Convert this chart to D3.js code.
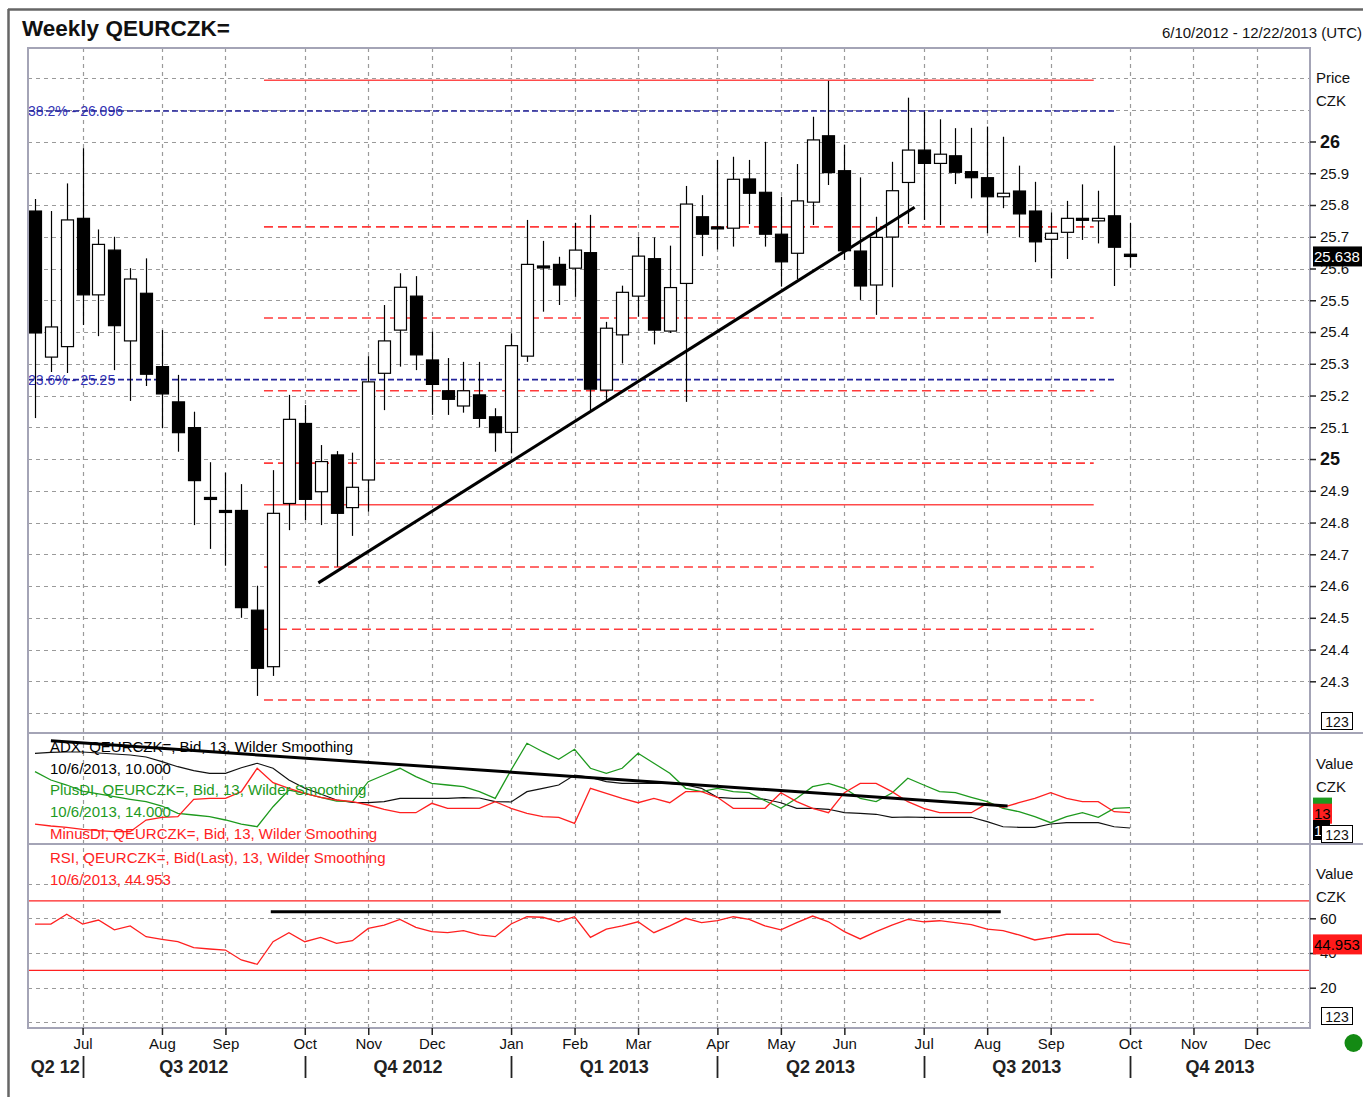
<!DOCTYPE html>
<html>
<head>
<meta charset="utf-8">
<script src="https://cdn.jsdelivr.net/npm/d3@7"></script>
<style>
body { margin: 0; background: #fff; }
svg { display: block; font-family: "Liberation Sans", Arial, sans-serif; }
</style>
</head>
<body>
<div id="chart"></div>
<script>
// weekly bars, first week 6/10/2012
const weekStart = new Date(2012, 5, 10);
const axisEnd = new Date(2013, 11, 23);

const open = [25.781, 25.321, 25.354, 25.758, 25.517, 25.658, 25.372, 25.522, 25.291, 25.180,
    25.099, 24.879, 24.838, 24.838, 24.524, 24.346, 24.860, 25.112, 24.897, 25.013,
    24.847, 24.934, 25.270, 25.406, 25.513, 25.312, 25.215, 25.167, 25.202, 25.133,
    25.084, 25.324, 25.608, 25.613, 25.601, 25.650, 25.217, 25.391, 25.513, 25.631,
    25.403, 25.553, 25.763, 25.731, 25.727, 25.882, 25.840, 25.708, 25.648, 25.809,
    26.018, 25.908, 25.655, 25.548, 25.699, 25.871, 25.973, 25.931, 25.955, 25.905,
    25.886, 25.826, 25.844, 25.781, 25.692, 25.714, 25.758, 25.750, 25.766, 25.645];
const high = [25.819, 25.781, 25.868, 25.979, 25.723, 25.700, 25.601, 25.632, 25.406, 25.265,
    25.149, 24.990, 24.957, 24.921, 24.601, 24.965, 25.202, 25.170, 25.044, 25.025,
    25.020, 25.324, 25.485, 25.585, 25.576, 25.401, 25.318, 25.306, 25.306, 25.160,
    25.396, 25.753, 25.687, 25.637, 25.744, 25.769, 25.432, 25.546, 25.700, 25.698,
    25.672, 25.860, 25.831, 25.942, 25.952, 25.942, 25.999, 25.826, 25.929, 26.078,
    26.191, 25.989, 25.887, 25.763, 25.936, 26.138, 26.094, 26.070, 26.042, 26.043,
    26.047, 26.015, 25.924, 25.873, 25.777, 25.813, 25.865, 25.845, 25.987, 25.744];
const low = [25.129, 25.274, 25.271, 25.422, 25.387, 25.280, 25.183, 25.230, 25.097, 25.023,
    24.792, 24.717, 24.664, 24.500, 24.254, 24.317, 24.776, 24.808, 24.792, 24.661,
    24.758, 24.834, 25.154, 25.291, 25.280, 25.139, 25.139, 25.146, 25.100, 25.023,
    25.018, 25.306, 25.464, 25.485, 25.511, 25.154, 25.186, 25.301, 25.448, 25.361,
    25.397, 25.180, 25.639, 25.660, 25.669, 25.740, 25.669, 25.543, 25.566, 25.737,
    25.863, 25.627, 25.501, 25.454, 25.541, 25.740, 25.753, 25.737, 25.866, 25.821,
    25.711, 25.790, 25.698, 25.620, 25.569, 25.630, 25.690, 25.679, 25.545, 25.603];
const close = [25.397, 25.416, 25.753, 25.517, 25.676, 25.420, 25.567, 25.267, 25.205, 25.083,
    24.932, 24.875, 24.834, 24.532, 24.341, 24.829, 25.125, 24.873, 24.992, 24.829,
    24.911, 25.243, 25.372, 25.541, 25.328, 25.235, 25.188, 25.215, 25.128, 25.083,
    25.357, 25.613, 25.604, 25.548, 25.658, 25.220, 25.412, 25.525, 25.639, 25.406,
    25.540, 25.803, 25.708, 25.727, 25.881, 25.837, 25.708, 25.621, 25.813, 26.005,
    25.902, 25.656, 25.545, 25.698, 25.845, 25.973, 25.931, 25.960, 25.903, 25.886,
    25.826, 25.837, 25.772, 25.684, 25.711, 25.758, 25.754, 25.758, 25.667, 25.638];

const adx = [24.65, 24.84, 24.90, 24.90, 24.71, 24.51, 24.31, 23.92, 23.00, 22.02,
    21.24, 20.73, 20.73, 21.82, 22.69, 21.71, 19.41, 17.78, 16.67, 15.49,
    15.04, 14.96, 15.16, 15.82, 15.82, 15.82, 15.82, 15.94, 15.88, 15.16,
    15.10, 17.12, 17.78, 18.43, 20.39, 19.94, 19.08, 18.76, 18.76, 18.76,
    18.76, 18.43, 17.78, 16.02, 15.82, 15.82, 15.63, 14.96, 13.86, 13.86,
    13.67, 13.00, 12.88, 12.69, 12.10, 12.16, 12.10, 12.10, 12.10, 12.10,
    11.24, 10.25, 10.14, 10.14, 10.78, 11.04, 11.04, 11.04, 10.25, 10.00];
const plusDI = [21.04, 19.41, 18.43, 17.25, 16.67, 16.14, 15.63, 15.16, 14.31, 12.88,
    12.55, 12.22, 11.57, 10.78, 10.25, 14.18, 17.45, 16.80, 16.02, 15.29,
    15.16, 19.08, 20.39, 21.71, 20.06, 18.76, 18.43, 18.10, 17.12, 15.82,
    21.37, 26.61, 24.96, 23.47, 25.43, 21.71, 20.73, 21.71, 24.65, 22.69,
    20.73, 17.78, 17.12, 17.78, 17.12, 16.92, 15.35, 13.86, 15.82, 18.10,
    18.76, 17.78, 15.82, 15.16, 16.86, 19.75, 18.43, 17.12, 16.92, 16.02,
    15.16, 13.86, 13.20, 12.22, 11.04, 12.22, 13.00, 12.10, 13.86, 14.00];
const minusDI = [10.78, 10.39, 10.14, 9.75, 9.47, 9.27, 9.27, 11.57, 12.10, 12.22,
    15.63, 15.82, 15.82, 17.12, 21.71, 18.88, 17.78, 16.80, 16.02, 15.49,
    15.16, 14.51, 13.67, 13.00, 13.00, 14.84, 13.86, 13.86, 13.86, 15.16,
    13.86, 12.88, 12.22, 12.10, 10.92, 17.78, 16.80, 15.82, 14.96, 15.82,
    14.96, 17.12, 17.12, 16.02, 13.86, 13.86, 13.86, 16.92, 15.16, 13.86,
    13.00, 16.92, 18.76, 18.76, 17.12, 15.16, 13.86, 13.00, 13.00, 13.00,
    14.84, 14.06, 14.96, 15.82, 16.92, 15.82, 15.16, 15.16, 13.20, 13.00];
const rsi = [56.7, 56.7, 62.3, 56.7, 59.0, 53.3, 55.6, 49.4, 47.9, 46.5,
    43.1, 42.3, 41.7, 36.0, 33.5, 46.5, 51.7, 46.5, 49.0, 45.6,
    47.1, 54.2, 56.1, 59.4, 54.8, 52.3, 51.7, 52.9, 50.4, 49.4,
    56.7, 60.9, 60.6, 58.0, 60.9, 49.0, 53.7, 55.6, 58.0, 51.7,
    55.6, 60.0, 57.5, 58.6, 60.9, 59.4, 55.6, 53.3, 57.5, 61.3,
    58.0, 52.3, 48.1, 52.3, 56.1, 59.4, 58.0, 58.6, 57.5, 56.3,
    53.7, 52.9, 50.4, 47.5, 49.0, 50.8, 50.8, 50.8, 46.5, 44.953];

const priceTicks = [24.3, 24.4, 24.5, 24.6, 24.7, 24.8, 24.9, 25, 25.1, 25.2, 25.3, 25.4, 25.5, 25.6, 25.7, 25.8, 25.9, 26];
const priceGrid = [24.2, 24.3, 24.4, 24.5, 24.6, 24.7, 24.8, 24.9, 25, 25.1, 25.2, 25.3, 25.4, 25.5, 25.6, 25.7, 25.8, 25.9, 26, 26.1, 26.2];
const rsiTicks = [60, 40, 20];
const rsiGrid = [0, 20, 40, 60, 80];
const rsiBands = [70, 30];

// drawn levels
const redSolidLevels = [26.193, 24.856];
const redDashedLevels = [25.731, 25.444, 25.215, 24.987, 24.660, 24.464, 24.241];
const levelSpan = [new Date(2012, 8, 19), new Date(2013, 8, 20)];
const fibLevels = [{ label: "38.2% - 26.096", value: 26.096 }, { label: "23.6% - 25.25", value: 25.25 }];
const fibEnd = new Date(2013, 8, 30);
const priceTrend = [{ date: new Date(2012, 9, 13), value: 24.61 }, { date: new Date(2013, 6, 3), value: 25.793 }];
const adxTrend = [{ date: new Date(2012, 5, 17), value: 27.1 }, { date: new Date(2013, 7, 13), value: 14.3 }];
const rsiTrend = [{ date: new Date(2012, 8, 22), value: 63.8 }, { date: new Date(2013, 7, 10), value: 63.8 }];

const lastClose = "25.638";
const adxLegend = [
    { text: "ADX, QEURCZK=, Bid, 13, Wilder Smoothing", color: "#000" },
    { text: "10/6/2013, 10.000", color: "#000" },
    { text: "PlusDI, QEURCZK=, Bid,  13, Wilder Smoothing", color: "#1e9a1e" },
    { text: "10/6/2013, 14.000", color: "#1e9a1e" },
    { text: "MinusDI, QEURCZK=, Bid,  13, Wilder Smoothing", color: "#f22" }
];
const rsiLegend = ["RSI, QEURCZK=, Bid(Last),  13, Wilder Smoothing", "10/6/2013, 44.953"];

const W = 1363, H = 1097;
const L = 28, R = 1310;
const mainTop = 48, mainBot = 733, adxBot = 844, rsiBot = 1028;
const FONT = 15;

const dates = d3.timeWeek.range(weekStart, d3.timeWeek.offset(weekStart, open.length));
const axisWeeks = d3.timeWeek.range(weekStart, axisEnd);

const svg = d3.select("#chart").append("svg")
    .attr("width", W)
    .attr("height", H);

const x = d3.scaleTime()
    .domain([dates[0], dates[dates.length - 1]])
    .range([35, 1130]);
const yP = d3.scaleLinear().domain([24.3, 26]).range([681.3, 141.5]);
const yA = d3.scaleLinear().domain([10, 14]).range([828, 807.6]);
const yR = d3.scaleLinear().domain([20, 60]).range([987.7, 918.3]);

svg.append("defs").append("clipPath").attr("id", "clip-plot")
    .append("rect").attr("x", L).attr("y", mainTop).attr("width", R - L).attr("height", rsiBot - mainTop);

// outer frame
svg.append("line").attr("x1", 8).attr("x2", W).attr("y1", 9.5).attr("y2", 9.5)
    .attr("stroke", "#666").attr("stroke-width", 2.5);
svg.append("line").attr("x1", 8.5).attr("x2", 8.5).attr("y1", 9).attr("y2", H)
    .attr("stroke", "#666").attr("stroke-width", 2.5);

svg.append("text").attr("x", 22).attr("y", 36)
    .style("font-size", "22.5px").style("font-weight", "bold").style("fill", "#111")
    .text("Weekly QEURCZK=");
svg.append("text").attr("x", 1362).attr("y", 38).attr("text-anchor", "end")
    .style("font-size", "15px").style("fill", "#111")
    .text("6/10/2012 - 12/22/2013 (UTC)");

// month weeks: first bar of each month
const monthWeeks = axisWeeks.filter((d, i) => i > 0 && d.getMonth() !== axisWeeks[i - 1].getMonth());
const quarterWeeks = monthWeeks.filter(d => d.getMonth() % 3 === 0);

const grid = svg.append("g").attr("stroke", "#9a9a9a").attr("stroke-width", 1.2).attr("stroke-dasharray", "4,4");
grid.selectAll(".vg").data(monthWeeks).join("line")
    .attr("x1", d => Math.round(x(d)) + 0.5).attr("x2", d => Math.round(x(d)) + 0.5)
    .attr("y1", mainTop).attr("y2", rsiBot);
grid.selectAll(".hg").data(priceGrid).join("line")
    .attr("x1", L).attr("x2", R)
    .attr("y1", d => Math.round(yP(d)) + 0.5).attr("y2", d => Math.round(yP(d)) + 0.5);
grid.selectAll(".rg").data(rsiGrid).join("line")
    .attr("x1", L).attr("x2", R)
    .attr("y1", d => Math.round(yR(d)) + 0.5).attr("y2", d => Math.round(yR(d)) + 0.5);

// level labels first so the lines run through them
svg.selectAll(".fib-label").data(fibLevels).join("text")
    .attr("x", L).attr("y", d => yP(d.value) + 5)
    .style("font-size", "14px").style("fill", "#3434b4")
    .text(d => d.label);

const plot = svg.append("g").attr("clip-path", "url(#clip-plot)");

plot.selectAll(".fib").data(fibLevels).join("line")
    .attr("x1", L).attr("x2", x(fibEnd))
    .attr("y1", d => yP(d.value)).attr("y2", d => yP(d.value))
    .attr("stroke", "#22229a").attr("stroke-width", 1.6).attr("stroke-dasharray", "6,3");

plot.selectAll(".red-solid").data(redSolidLevels).join("line")
    .attr("x1", x(levelSpan[0])).attr("x2", x(levelSpan[1]))
    .attr("y1", d => yP(d)).attr("y2", d => yP(d))
    .attr("stroke", "#ff4a4a").attr("stroke-width", 1.6);
plot.selectAll(".red-dash").data(redDashedLevels).join("line")
    .attr("x1", x(levelSpan[0])).attr("x2", x(levelSpan[1]))
    .attr("y1", d => yP(d)).attr("y2", d => yP(d))
    .attr("stroke", "#ff3a3a").attr("stroke-width", 1.6).attr("stroke-dasharray", "9,5");

// candles
const candles = plot.append("g");
candles.selectAll(".wick").data(dates).join("line")
    .attr("x1", d => Math.round(x(d)) + 0.5).attr("x2", d => Math.round(x(d)) + 0.5)
    .attr("y1", (d, i) => yP(high[i])).attr("y2", (d, i) => yP(low[i]))
    .attr("stroke", "#000").attr("stroke-width", 1.2);
candles.selectAll(".body").data(dates).join("rect")
    .attr("x", d => Math.round(x(d)) - 5.5)
    .attr("y", (d, i) => yP(Math.max(open[i], close[i])))
    .attr("width", 12)
    .attr("height", (d, i) => Math.max(2, Math.abs(yP(open[i]) - yP(close[i]))))
    .attr("fill", (d, i) => close[i] >= open[i] ? "#fff" : "#000")
    .attr("stroke", "#000").attr("stroke-width", 1.2);

const trend = d3.line().x(d => x(d.date));
plot.append("path").datum(priceTrend)
    .attr("d", trend.y(d => yP(d.value)))
    .attr("fill", "none").attr("stroke", "#000").attr("stroke-width", 3);

// ADX panel
svg.selectAll(".adx-legend").data(adxLegend).join("text")
    .attr("x", 50).attr("y", (d, i) => 752 + i * 21.7)
    .style("font-size", FONT + "px").style("fill", d => d.color)
    .text(d => d.text);

const lineA = d3.line().x((d, i) => x(dates[i])).y(d => yA(d));
plot.append("path").datum(adx).attr("d", lineA)
    .attr("fill", "none").attr("stroke", "#111").attr("stroke-width", 1.2);
plot.append("path").datum(plusDI).attr("d", lineA)
    .attr("fill", "none").attr("stroke", "#1e9a1e").attr("stroke-width", 1.3);
plot.append("path").datum(minusDI).attr("d", lineA)
    .attr("fill", "none").attr("stroke", "#ff2020").attr("stroke-width", 1.3);
plot.append("path").datum(adxTrend)
    .attr("d", d3.line().x(d => x(d.date)).y(d => yA(d.value)))
    .attr("fill", "none").attr("stroke", "#000").attr("stroke-width", 3);

// RSI panel
svg.selectAll(".rsi-legend").data(rsiLegend).join("text")
    .attr("x", 50).attr("y", (d, i) => 863 + i * 21.7)
    .style("font-size", FONT + "px").style("fill", "#f22")
    .text(d => d);
plot.selectAll(".band").data(rsiBands).join("line")
    .attr("x1", L).attr("x2", R)
    .attr("y1", d => yR(d)).attr("y2", d => yR(d))
    .attr("stroke", "#ff2020").attr("stroke-width", 1.3);
plot.append("path").datum(rsi)
    .attr("d", d3.line().x((d, i) => x(dates[i])).y(d => yR(d)))
    .attr("fill", "none").attr("stroke", "#ff2020").attr("stroke-width", 1.3);
plot.append("path").datum(rsiTrend)
    .attr("d", d3.line().x(d => x(d.date)).y(d => yR(d.value)))
    .attr("fill", "none").attr("stroke", "#000").attr("stroke-width", 3);

// panel borders
const border = svg.append("g").attr("stroke", "#a4a4b6").attr("stroke-width", 2).attr("fill", "none");
border.append("rect").attr("x", L).attr("y", mainTop).attr("width", R - L).attr("height", rsiBot - mainTop);
[mainBot, adxBot].forEach(y => {
    border.append("line").attr("x1", L).attr("x2", W).attr("y1", y).attr("y2", y);
});

// price axis
const priceAxis = svg.append("g")
    .attr("transform", `translate(${R},0)`)
    .call(d3.axisRight(yP).tickValues(priceTicks).tickSize(6).tickPadding(4)
        .tickFormat(d => Number.isInteger(d) ? d : d3.format(".1f")(d)));
priceAxis.select(".domain").remove();
priceAxis.selectAll(".tick line").attr("stroke", "#222").attr("stroke-width", 1.5);
priceAxis.selectAll(".tick text")
    .style("font-family", "Liberation Sans, Arial, sans-serif")
    .style("font-size", d => Number.isInteger(d) ? "18px" : FONT + "px")
    .style("font-weight", d => Number.isInteger(d) ? "bold" : "normal")
    .style("fill", "#111");

const rsiAxis = svg.append("g")
    .attr("transform", `translate(${R},0)`)
    .call(d3.axisRight(yR).tickValues(rsiTicks).tickSize(6).tickPadding(4));
rsiAxis.select(".domain").remove();
rsiAxis.selectAll(".tick line").attr("stroke", "#222").attr("stroke-width", 1.5);
rsiAxis.selectAll(".tick text")
    .style("font-family", "Liberation Sans, Arial, sans-serif")
    .style("font-size", FONT + "px").style("fill", "#111");

const unitLabels = [["Price", 83], ["CZK", 106], ["Value", 769], ["CZK", 792], ["Value", 879], ["CZK", 902]];
svg.selectAll(".unit").data(unitLabels).join("text")
    .attr("x", 1316).attr("y", d => d[1])
    .style("font-size", FONT + "px").style("fill", "#111")
    .text(d => d[0]);

// value tags
function tag(yc, w, fill, txt, txtColor) {
    svg.append("rect").attr("x", 1313).attr("y", yc - 10).attr("width", w).attr("height", 20).attr("fill", fill);
    svg.append("text").attr("x", 1314).attr("y", yc + 5.5)
        .style("font-size", FONT + "px").style("fill", txtColor).text(txt);
}
tag(yP(close[close.length - 1]), 49, "#000", lastClose, "#fff");
tag(yA(plusDI[plusDI.length - 1]), 19, "#1e9a1e", "", "#000");
tag(yA(minusDI[minusDI.length - 1]) + 1, 19, "#ff2020", d3.format("d")(minusDI[minusDI.length - 1]), "#000");
tag(yA(adx[adx.length - 1]) + 2, 17, "#000", d3.format("d")(adx[adx.length - 1]), "#fff");
tag(yR(rsi[rsi.length - 1]), 49, "#ff1a1a", d3.format(".3f")(rsi[rsi.length - 1]), "#000");

// "123" boxes
[721, 834, 1016].forEach(yc => {
    svg.append("rect").attr("x", 1321.5).attr("y", yc - 8.5).attr("width", 31).attr("height", 17)
        .attr("fill", "#fff").attr("stroke", "#000").attr("stroke-width", 1);
    svg.append("text").attr("x", 1337).attr("y", yc + 5.5).attr("text-anchor", "middle")
        .style("font-size", "14px").style("fill", "#111").text("123");
});

// month axis
const monthAxis = svg.append("g")
    .attr("transform", `translate(0,${rsiBot})`)
    .call(d3.axisBottom(x).tickValues(monthWeeks).tickSize(7).tickPadding(3)
        .tickFormat(d3.timeFormat("%b")));
monthAxis.select(".domain").remove();
monthAxis.selectAll(".tick line").attr("stroke", "#222").attr("stroke-width", 1.5);
monthAxis.selectAll(".tick text")
    .style("font-family", "Liberation Sans, Arial, sans-serif")
    .style("font-size", FONT + "px").style("fill", "#111");

// quarter labels
svg.selectAll(".qsep").data(quarterWeeks).join("line")
    .attr("x1", d => Math.round(x(d)) + 0.5).attr("x2", d => Math.round(x(d)) + 0.5)
    .attr("y1", 1056).attr("y2", 1078)
    .attr("stroke", "#222").attr("stroke-width", 1.8);
const qEdges = [L, ...quarterWeeks.map(d => x(d)), R];
const qStarts = [new Date(2012, 3, 1), ...quarterWeeks];
svg.selectAll(".qlabel").data(qStarts).join("text")
    .attr("x", (d, i) => (qEdges[i] + qEdges[i + 1]) / 2)
    .attr("y", 1072.5)
    .attr("text-anchor", "middle")
    .style("font-size", "18px").style("font-weight", "bold").style("fill", "#222")
    .text((d, i) => i === 0 ? `Q${Math.floor(d.getMonth() / 3) + 1} ${String(d.getFullYear()).slice(2)}`
        : `Q${Math.floor(d.getMonth() / 3) + 1} ${d.getFullYear()}`);

svg.append("circle").attr("cx", 1353.5).attr("cy", 1043).attr("r", 9).attr("fill", "#138a13");
</script>
</body>
</html>
